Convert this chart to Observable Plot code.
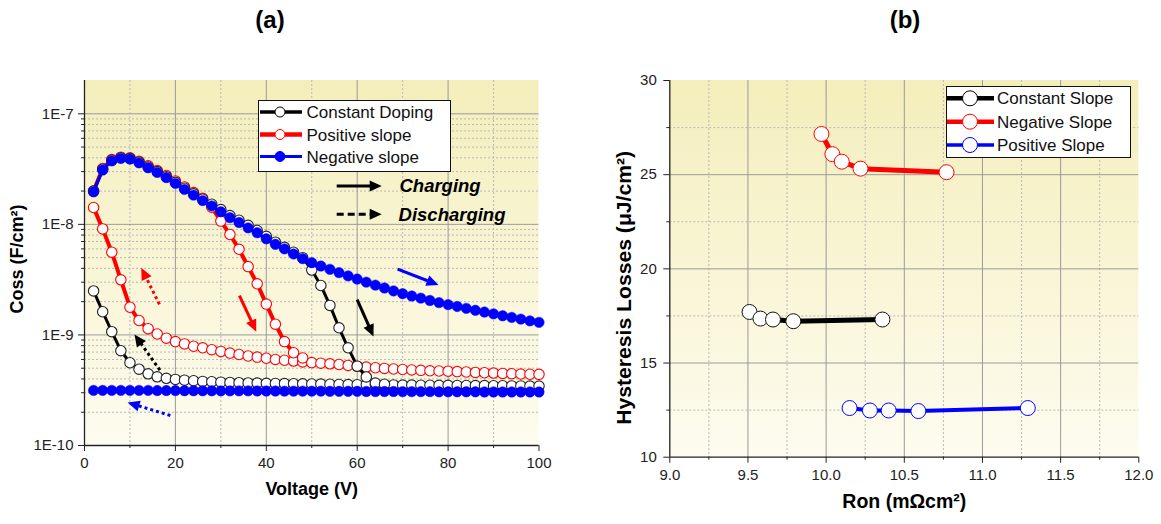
<!DOCTYPE html>
<html>
<head>
<meta charset="utf-8">
<script src="https://cdn.jsdelivr.net/npm/d3@7"></script>
<script src="https://cdn.jsdelivr.net/npm/@observablehq/plot@0.6"></script>
<style>
  html, body { margin: 0; padding: 0; background: #ffffff; }
  #root { position: relative; width: 1161px; height: 524px; overflow: hidden; font-family: "Liberation Sans", Arial, sans-serif; }
  .panel { position: absolute; top: 0; }
  .title { position: absolute; font-weight: bold; font-size: 24px; line-height: 26px; text-align: center; width: 60px; color: #000; }
  .legend { position: absolute; }
</style>
</head>
<body>
<div id="root">
  <div class="title" style="left:240px; top:7px;">(a)</div>
  <div class="title" style="left:875px; top:7px;">(b)</div>
  <div id="pa" class="panel" style="left:0px;"></div>
  <div id="pb" class="panel" style="left:580px;"></div>
  <div id="la" class="legend" style="left:258px; top:100px;"></div>
  <div id="lb" class="legend" style="left:946px; top:86px;"></div>
</div>
<script>
// ---------------- Panel (a) data: Coss vs Voltage ----------------
const voltage = [2,4,6,8,10,12,14,16,18,20,22,24,26,28,30,32,34,36,38,40,42,44,46,48,50,
                 52,54,56,58,60,62,64,66,68,70,72,74,76,78,80,82,84,86,88,90,92,94,96,98,100];

// Charging branches (upper curves)
const blackCharge = [2.0e-8,3.15e-8,3.8e-8,4.0e-8,3.95e-8, 3.66e-8,3.3e-8,3.0e-8,2.7e-8,2.4e-8,
                     2.12e-8,1.89e-8,1.69e-8,1.52e-8,1.36e-8, 1.2e-8,1.09e-8,9.8e-9,8.8e-9,7.8e-9,
                     6.9e-9,6.2e-9,5.6e-9,5.0e-9,3.86e-9, 2.8e-9,1.85e-9,1.16e-9,7.65e-10,5.22e-10,
                     4.17e-10,3.67e-10,3.58e-10];
const redCharge = [2.0e-8,3.2e-8,3.85e-8,4.05e-8,4.0e-8, 3.72e-8,3.38e-8,3.07e-8,2.77e-8,2.47e-8,
                   2.18e-8,1.94e-8,1.72e-8,1.43e-8,1.07e-8, 8.1e-9,5.95e-9,4.15e-9,2.9e-9,1.9e-9,
                   1.25e-9,8.7e-10,6.9e-10,6.2e-10];
const blueCharge = [1.97e-8,3.1e-8,3.75e-8,3.95e-8,3.9e-8, 3.6e-8,3.25e-8,2.95e-8,2.65e-8,2.35e-8,
                    2.07e-8,1.84e-8,1.64e-8,1.47e-8,1.30e-8, 1.15e-8,1.04e-8,9.3e-9,8.4e-9,7.4e-9,
                    6.6e-9,6.0e-9,5.4e-9,4.9e-9,4.5e-9, 4.2e-9,3.92e-9,3.66e-9,3.42e-9,3.2e-9,
                    3.0e-9,2.82e-9,2.66e-9,2.5e-9,2.36e-9, 2.25e-9,2.15e-9,2.05e-9,1.96e-9,1.88e-9,
                    1.81e-9,1.74e-9,1.67e-9,1.61e-9,1.55e-9, 1.49e-9,1.44e-9,1.39e-9,1.34e-9,1.3e-9];

// Discharging branches (lower curves)
const blackDischarge = [2.5e-9,1.62e-9,1.07e-9,7.2e-10,5.6e-10, 4.9e-10,4.45e-10,4.18e-10,4.05e-10,3.96e-10,
                        3.9e-10,3.85e-10,3.8e-10,3.77e-10,3.74e-10, 3.72e-10,3.7e-10,3.68e-10,3.67e-10,3.65e-10,
                        3.64e-10,3.63e-10,3.62e-10,3.61e-10,3.6e-10, 3.59e-10,3.58e-10,3.57e-10,3.56e-10,3.55e-10,
                        3.55e-10,3.54e-10,3.53e-10,3.53e-10,3.52e-10, 3.52e-10,3.51e-10,3.51e-10,3.5e-10,3.5e-10,
                        3.49e-10,3.49e-10,3.48e-10,3.48e-10,3.47e-10, 3.47e-10,3.46e-10,3.46e-10,3.45e-10,3.45e-10];
const redDischarge = [1.42e-8,9.1e-9,5.6e-9,3.15e-9,1.78e-9, 1.35e-9,1.14e-9,1.02e-9,9.35e-10,8.7e-10,
                      8.3e-10,7.9e-10,7.65e-10,7.35e-10,7.1e-10, 6.85e-10,6.65e-10,6.45e-10,6.3e-10,6.15e-10,
                      6.0e-10,5.9e-10,5.8e-10,5.7e-10,5.62e-10, 5.55e-10,5.48e-10,5.4e-10,5.3e-10,5.2e-10,
                      5.12e-10,5.05e-10,4.98e-10,4.92e-10,4.87e-10, 4.82e-10,4.78e-10,4.74e-10,4.72e-10,4.7e-10,
                      4.66e-10,4.62e-10,4.58e-10,4.55e-10,4.52e-10, 4.49e-10,4.46e-10,4.43e-10,4.41e-10,4.4e-10];
const blueDischarge = [3.15e-10,3.15e-10,3.15e-10,3.15e-10,3.15e-10, 3.15e-10,3.15e-10,3.14e-10,3.14e-10,3.14e-10,
                       3.13e-10,3.13e-10,3.13e-10,3.13e-10,3.12e-10, 3.12e-10,3.12e-10,3.12e-10,3.11e-10,3.11e-10,
                       3.11e-10,3.1e-10,3.1e-10,3.1e-10,3.1e-10, 3.1e-10,3.09e-10,3.09e-10,3.09e-10,3.09e-10,
                       3.08e-10,3.08e-10,3.08e-10,3.08e-10,3.07e-10, 3.07e-10,3.07e-10,3.07e-10,3.06e-10,3.06e-10,
                       3.06e-10,3.06e-10,3.06e-10,3.05e-10,3.05e-10, 3.05e-10,3.05e-10,3.05e-10,3.05e-10,3.05e-10];

const seriesNamesA = ["Constant Doping", "Positive slope", "Negative slope"];

// axis ticks panel (a)
const xTicksA = [0,20,40,60,80,100];
const xMinorA = [10,30,50,70,90];
const yTicksA = [1e-10,1e-9,1e-8,1e-7];
const yTickLabelsA = ["1E-10","1E-9","1E-8","1E-7"];
const yMinorA = [2e-10,3e-10,4e-10,5e-10,6e-10,7e-10,8e-10,9e-10,
                 2e-9,3e-9,4e-9,5e-9,6e-9,7e-9,8e-9,9e-9,
                 2e-8,3e-8,4e-8,5e-8,6e-8,7e-8,8e-8,9e-8];

// annotation arrows panel (a), data coordinates [V, Coss]
const arrowsA = [
  {x1: 55.6, y1: 2.2e-8,  x2: 65.5, y2: 2.2e-8,  color: "black", dash: "solid"},
  {x1: 55.6, y1: 1.22e-8, x2: 65.5, y2: 1.22e-8, color: "black", dash: "dashed"},
  {x1: 69.0, y1: 3.9e-9,  x2: 78.0, y2: 2.8e-9,  color: "blue",  dash: "solid"},
  {x1: 60.1, y1: 2.06e-9, x2: 63.7, y2: 9.6e-10, color: "black", dash: "solid"},
  {x1: 34.2, y1: 2.24e-9, x2: 37.9, y2: 1.06e-9, color: "red",   dash: "solid"},
  {x1: 16.6, y1: 1.87e-9, x2: 12.6, y2: 4.0e-9,  color: "red",   dash: "dotted"},
  {x1: 16.7, y1: 4.75e-10, x2: 11.1, y2: 1.0e-9, color: "black", dash: "dotted"},
  {x1: 19.0, y1: 1.85e-10, x2: 9.6, y2: 2.42e-10, color: "blue", dash: "dotted"}
];
const annotTextA = [
  {x: 69.3, y: 2.2e-8, text: "Charging"},
  {x: 69.1, y: 1.22e-8, text: "Discharging"}
];

// ---------------- Panel (b) data: Hysteresis losses vs Ron ----------------
const constRon = [9.51, 9.58, 9.66, 9.79, 10.36];
const constLoss = [17.71, 17.36, 17.31, 17.22, 17.31];
const negRon = [9.97, 10.04, 10.10, 10.22, 10.77];
const negLoss = [27.16, 26.09, 25.69, 25.32, 25.13];
const posRon = [10.15, 10.28, 10.40, 10.59, 11.29];
const posLoss = [12.61, 12.48, 12.48, 12.45, 12.61];
const seriesNamesB = ["Constant Slope", "Negative Slope", "Positive Slope"];

const xTicksB = [9.0, 9.5, 10.0, 10.5, 11.0, 11.5, 12.0];
const xMinorB = [9.25, 9.75, 10.25, 10.75, 11.25, 11.75];
const yTicksB = [10, 15, 20, 25, 30];
const yMinorB = [12.5, 17.5, 22.5, 27.5];

// ---------------- helpers ----------------
const FONT = '"Liberation Sans", Arial, sans-serif';
const rows = (xs, ys) => ys.map((y, i) => ({x: xs[i], y}));

function background(id) {
  return (index, scales, values, dims) => {
    const g = d3.create("svg:g");
    const grad = g.append("defs").append("linearGradient")
      .attr("id", id).attr("x1", 0).attr("y1", 0).attr("x2", 0).attr("y2", 1);
    grad.append("stop").attr("offset", "0%").attr("stop-color", "#f4eebb");
    grad.append("stop").attr("offset", "100%").attr("stop-color", "#fdfcef");
    g.append("rect")
      .attr("x", dims.marginLeft).attr("y", dims.marginTop)
      .attr("width", dims.width - dims.marginLeft - dims.marginRight)
      .attr("height", dims.height - dims.marginTop - dims.marginBottom)
      .attr("fill", `url(#${id})`);
    return g.node();
  };
}

function arrowsMark(arrows) {
  return (index, scales) => {
    const g = d3.create("svg:g");
    for (const a of arrows) {
      const x1 = scales.x(a.x1), y1 = scales.y(a.y1), x2 = scales.x(a.x2), y2 = scales.y(a.y2);
      const ang = Math.atan2(y2 - y1, x2 - x1);
      const hl = 12, hw = 5.5;
      const c = Math.cos(ang), s = Math.sin(ang);
      const bx = x2 - hl * c, by = y2 - hl * s;
      const dash = a.dash === "dashed" ? "7,4" : a.dash === "dotted" ? "3,3" : null;
      g.append("line").attr("x1", x1).attr("y1", y1).attr("x2", bx + c).attr("y2", by + s)
        .attr("stroke", a.color).attr("stroke-width", 3).attr("stroke-dasharray", dash);
      g.append("path")
        .attr("d", `M${x2},${y2}L${bx - hw * s},${by + hw * c}L${bx + hw * s},${by - hw * c}Z`)
        .attr("fill", a.color);
    }
    return g.node();
  };
}

// ---------------- Panel (a) ----------------
const chartA = Plot.plot({
  width: 580, height: 524,
  marginLeft: 84, marginRight: 41.5, marginTop: 80, marginBottom: 79,
  style: {background: "transparent", fontFamily: FONT, overflow: "visible"},
  x: {domain: [0, 100]},
  y: {type: "log", domain: [1e-10, 2e-7]},
  marks: [
    background("gradA"),
    Plot.gridX(xMinorA, {stroke: "#b8b8b8", strokeOpacity: 1, strokeDasharray: "2,2"}),
    Plot.gridY(yMinorA, {stroke: "#b8b8b8", strokeOpacity: 1, strokeDasharray: "2,2"}),
    Plot.gridX([20, 40, 60, 80], {stroke: "#9a9a9a", strokeOpacity: 1}),
    Plot.gridY([1e-9, 1e-8, 1e-7], {stroke: "#9a9a9a", strokeOpacity: 1}),
    Plot.axisX(xTicksA, {tickSize: 6, tickPadding: 6, fontSize: 15, label: null, stroke: "#222", fill: "#222"}),
    Plot.axisX(xMinorA, {tickSize: 3, tickFormat: () => "", label: null, stroke: "#222"}),
    Plot.axisY(yTicksA, {tickSize: 6, tickPadding: 5, fontSize: 15, label: null, stroke: "#222", fill: "#222",
      tickFormat: d => yTickLabelsA[yTicksA.indexOf(d)]}),
    Plot.axisY(yMinorA, {tickSize: 3, tickFormat: () => "", label: null, stroke: "#222"}),
    Plot.ruleX([0], {stroke: "#222", strokeWidth: 1.3}),
    Plot.ruleY([1e-10], {stroke: "#222", strokeWidth: 1.3}),
    // Positive slope (red)
    Plot.line(rows(voltage, redDischarge), {x: "x", y: "y", stroke: "red", strokeWidth: 4}),
    Plot.line(rows(voltage, redCharge), {x: "x", y: "y", stroke: "red", strokeWidth: 4}),
    Plot.dot(rows(voltage, redDischarge), {x: "x", y: "y", r: 5.2, fill: "white", stroke: "red", strokeWidth: 1.1}),
    Plot.dot(rows(voltage, redCharge), {x: "x", y: "y", r: 5.2, fill: "white", stroke: "red", strokeWidth: 1.1}),
    // Constant doping (black)
    Plot.line(rows(voltage, blackDischarge), {x: "x", y: "y", stroke: "black", strokeWidth: 3}),
    Plot.line(rows(voltage, blackCharge), {x: "x", y: "y", stroke: "black", strokeWidth: 3}),
    Plot.dot(rows(voltage, blackDischarge), {x: "x", y: "y", r: 5.2, fill: "white", stroke: "#222", strokeWidth: 1.1}),
    Plot.dot(rows(voltage, blackCharge), {x: "x", y: "y", r: 5.2, fill: "white", stroke: "#222", strokeWidth: 1.1}),
    // Negative slope (blue)
    Plot.line(rows(voltage, blueDischarge), {x: "x", y: "y", stroke: "blue", strokeWidth: 3}),
    Plot.line(rows(voltage, blueCharge), {x: "x", y: "y", stroke: "blue", strokeWidth: 3}),
    Plot.dot(rows(voltage, blueDischarge), {x: "x", y: "y", r: 5.2, fill: "blue", stroke: "blue", strokeWidth: 0.5}),
    Plot.dot(rows(voltage, blueCharge), {x: "x", y: "y", r: 5.2, fill: "blue", stroke: "blue", strokeWidth: 0.5}),
    arrowsMark(arrowsA),
    Plot.text(annotTextA, {x: "x", y: "y", text: "text", textAnchor: "start", fontSize: 18.5,
      fontWeight: "bold", fontStyle: "italic", fill: "black"}),
    Plot.text(["Coss (F/cm²)"], {frameAnchor: "left", textAnchor: "middle", dx: -67, dy: -4, rotate: -90,
      fontSize: 18, fontWeight: "bold", fill: "black"}),
    Plot.text(["Voltage (V)"], {frameAnchor: "bottom", textAnchor: "middle", dy: 49, fontSize: 18,
      fontWeight: "bold", fill: "black"})
  ]
});
document.getElementById("pa").appendChild(chartA);

// ---------------- Panel (b) ----------------
const chartB = Plot.plot({
  width: 581, height: 524,
  marginLeft: 89.3, marginRight: 22.7, marginTop: 80, marginBottom: 67.3,
  style: {background: "transparent", fontFamily: FONT, overflow: "visible"},
  x: {domain: [9, 12]},
  y: {domain: [10, 30]},
  marks: [
    background("gradB"),
    Plot.gridX(xMinorB, {stroke: "#b8b8b8", strokeOpacity: 1, strokeDasharray: "2,2"}),
    Plot.gridY(yMinorB, {stroke: "#b8b8b8", strokeOpacity: 1, strokeDasharray: "2,2"}),
    Plot.gridX([9.5, 10, 10.5, 11, 11.5], {stroke: "#9a9a9a", strokeOpacity: 1}),
    Plot.gridY([15, 20, 25], {stroke: "#9a9a9a", strokeOpacity: 1}),
    Plot.axisX(xTicksB, {tickSize: 6, tickPadding: 6, fontSize: 15, label: null, stroke: "#222", fill: "#222",
      tickFormat: d3.format(".1f")}),
    Plot.axisX(xMinorB, {tickSize: 3, tickFormat: () => "", label: null, stroke: "#222"}),
    Plot.axisY(yTicksB, {tickSize: 6, tickPadding: 7, fontSize: 15, label: null, stroke: "#222", fill: "#222"}),
    Plot.axisY(yMinorB, {tickSize: 3, tickFormat: () => "", label: null, stroke: "#222"}),
    Plot.ruleX([9], {stroke: "#222", strokeWidth: 1.3}),
    Plot.ruleY([10], {stroke: "#222", strokeWidth: 1.3}),
    Plot.line(rows(constRon, constLoss), {x: "x", y: "y", stroke: "black", strokeWidth: 5}),
    Plot.dot(rows(constRon, constLoss), {x: "x", y: "y", r: 7.5, fill: "white", stroke: "#111", strokeWidth: 1}),
    Plot.line(rows(negRon, negLoss), {x: "x", y: "y", stroke: "red", strokeWidth: 5}),
    Plot.dot(rows(negRon, negLoss), {x: "x", y: "y", r: 7.5, fill: "white", stroke: "red", strokeWidth: 1}),
    Plot.line(rows(posRon, posLoss), {x: "x", y: "y", stroke: "blue", strokeWidth: 4}),
    Plot.dot(rows(posRon, posLoss), {x: "x", y: "y", r: 7.5, fill: "white", stroke: "blue", strokeWidth: 1}),
    Plot.text(["Hysteresis Losses (μJ/cm²)"], {frameAnchor: "left", textAnchor: "middle", dx: -45, dy: 19,
      rotate: -90, fontSize: 19.5, fontWeight: "bold", fill: "black"}),
    Plot.text(["Ron (mΩcm²)"], {frameAnchor: "bottom", textAnchor: "middle", dy: 51, fontSize: 19.5,
      fontWeight: "bold", fill: "black"})
  ]
});
document.getElementById("pb").appendChild(chartB);
d3.select(chartB).selectAll("text")
  .filter(function () { return this.textContent.startsWith("Hysteresis"); })
  .attr("textLength", 274).attr("lengthAdjust", "spacingAndGlyphs");

// ---------------- Legends ----------------
function legend(el, w, h, names, styles, rowY, lineX1, lineX2, cx, textX, r) {
  const svg = d3.select(el).append("svg").attr("width", w + 1).attr("height", h + 1)
    .style("display", "block").style("font-family", FONT);
  svg.append("rect").attr("x", 0.5).attr("y", 0.5).attr("width", w - 1).attr("height", h - 1)
    .attr("fill", "white").attr("stroke", "#111").attr("stroke-width", 1);
  names.forEach((name, i) => {
    const st = styles[i], y = rowY[i];
    svg.append("line").attr("x1", lineX1).attr("x2", lineX2).attr("y1", y).attr("y2", y)
      .attr("stroke", st.stroke).attr("stroke-width", st.width);
    svg.append("circle").attr("cx", cx).attr("cy", y).attr("r", r)
      .attr("fill", st.fill).attr("stroke", st.stroke).attr("stroke-width", 1);
    svg.append("text").attr("x", textX).attr("y", y).attr("dy", "0.36em")
      .attr("font-size", 17).attr("fill", "#111").text(name);
  });
}
legend(document.getElementById("la"), 193, 72, seriesNamesA,
  [{stroke: "black", width: 3.5, fill: "white"}, {stroke: "red", width: 4.5, fill: "white"}, {stroke: "blue", width: 3, fill: "blue"}],
  [12, 34.5, 56.5], 2, 44, 22, 48.5, 5);
legend(document.getElementById("lb"), 185, 72, seriesNamesB,
  [{stroke: "black", width: 4.5, fill: "white"}, {stroke: "red", width: 4.5, fill: "white"}, {stroke: "blue", width: 3.5, fill: "white"}],
  [12.3, 35.7, 59], 1, 48, 24, 51, 7.5);
</script>
</body>
</html>
